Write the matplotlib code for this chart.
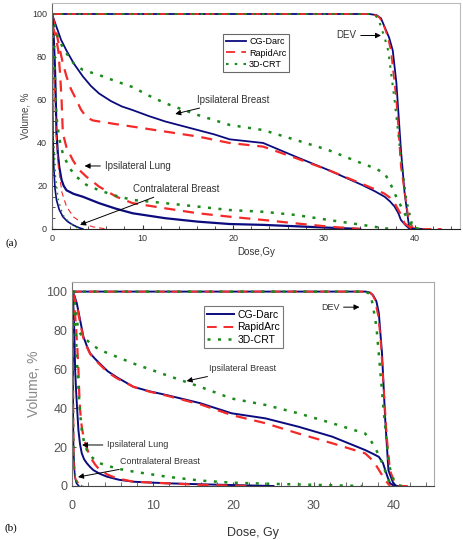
import numpy as np
import matplotlib.pyplot as plt
from matplotlib.ticker import MultipleLocator

plt.rcParams['font.family'] = ['Liberation Sans', 'DejaVu Sans']

navy = '#0b0b7e'
red = '#f42a2a'
green = '#1b8a1b'

# ---------------- panel (a) data: dose (Gy), volume (%) ----------------
a_dev_cg_x = [0, 35.0, 35.8, 36.3, 36.7, 37.2, 37.6, 38.0, 38.5, 38.9, 39.4, 40.0, 41.0]
a_dev_cg_y = [100, 100, 99.5, 98, 94, 89, 83, 68, 37, 17, 1, 0, 0]
a_dev_ra_x = [0, 35.0, 35.7, 36.1, 36.5, 37.0, 37.4, 38.0, 38.5, 39.3, 39.8, 40.5, 43.0]
a_dev_ra_y = [100, 100, 99.5, 98.5, 96, 90, 83, 60, 29, 6, 0.5, 0, 0]
a_dev_3d_x = [0, 35.0, 35.6, 36.0, 36.3, 36.7, 37.1, 37.8, 38.4, 39.1, 39.8, 40.5, 41.0]
a_dev_3d_y = [100, 100, 99.5, 98, 94, 89, 83, 60, 37, 13.5, 1, 0, 0]

a_ib_cg_x = [0, 0.5, 1.0, 1.6, 2.4, 3.4, 4.3, 5.2, 6.5, 7.7, 8.9, 10.7, 12.5, 14.3, 16.1, 17.9, 19.6,
             23.3, 26.9, 30.5, 34.2, 35.6, 36.7, 37.3, 37.8, 38.2, 38.5, 39.0, 39.4, 40.0]
a_ib_cg_y = [100, 94, 88, 83, 77, 71, 66.5, 63, 59.5, 57, 55.3, 52.5, 50, 48, 46, 44, 41.7,
             40, 33.6, 27.4, 20.5, 17.6, 15, 12.8, 10.4, 7.5, 4.2, 1.8, 0.3, 0]
a_ib_ra_x = [0, 0.3, 0.6, 0.9, 1.2, 1.6, 2.1, 2.7, 3.2, 3.8, 4.5, 5.2, 7.0, 8.9, 12.5, 16.1, 19.6,
             23.3, 26.9, 30.5, 34.2, 35.6, 36.7, 37.3, 37.8, 38.4, 38.9, 39.6, 40.2]
a_ib_ra_y = [100, 95, 89, 83, 77, 71, 65, 60, 55.5, 52, 50.5, 50, 48.8, 47.6, 45.3, 43, 40,
             38.3, 33, 27.4, 21, 18.5, 16.4, 14.5, 12, 7.5, 2.6, 0.5, 0]
a_ib_3d_x = [0, 0.5, 1.0, 1.6, 2.4, 3.4, 5.2, 7.0, 8.9, 10.7, 12.5, 14.3, 16.1, 19.6,
             23.3, 26.9, 30.5, 34.2, 35.6, 36.7, 37.3, 37.8, 38.4, 38.9, 39.6, 40.5]
a_ib_3d_y = [100, 91, 86, 81.7, 77, 74, 71.6, 68.8, 66, 62, 58.5, 55.7, 53, 48.4,
             46, 41.4, 36.7, 30.5, 28.3, 25.9, 21.5, 16.6, 11.5, 7.3, 1.9, 0]

a_il_cg_x = [0, 0.1, 0.2, 0.33, 0.42, 0.5, 0.65, 0.8, 1.06, 1.3, 1.6, 2.4, 3.4, 4.3, 5.2, 7.0, 8.9,
             12.5, 16.1, 19.6, 23.3, 30.5, 34.0]
a_il_cg_y = [100, 95, 88, 75, 60, 44.5, 35, 29, 22.8, 20, 18, 16.3, 15, 13.5, 12, 9.5, 7.3,
             5, 3.4, 2.3, 1.9, 0.6, 0]
a_il_ra_x = [0, 0.4, 0.7, 0.9, 1.06, 1.2, 1.6, 2.3, 3.0, 3.8, 5.2, 7.1, 8.9, 12.5, 16.1, 19.6,
             23.3, 26.9, 30.5, 34.0]
a_il_ra_y = [95, 90, 83, 72, 60, 44.5, 38, 32, 27.5, 24.3, 19.7, 15, 12, 9.6, 7.3, 5.7,
             4.2, 2.6, 1.1, 0]
a_il_3d_x = [0, 0.2, 0.35, 0.5, 0.8, 1.2, 1.9, 2.7, 3.8, 5.2, 7.0, 8.9, 12.5, 16.1, 19.6,
             23.3, 26.9, 30.5, 34.2, 36.7, 37.5]
a_il_3d_y = [95, 85, 68, 52, 42, 35, 28.5, 24.3, 20.5, 18, 15.5, 13.5, 12, 10.4, 8.8,
             8, 6.5, 4.2, 1.9, 0.3, 0]

a_cb_cg_x = [0, 0.04, 0.07, 0.12, 0.2, 0.33, 0.5, 0.8, 1.2, 1.7, 2.3, 2.9, 3.4]
a_cb_cg_y = [100, 80, 60, 42, 29, 19, 13.5, 9, 5.7, 3.5, 1.9, 0.7, 0]
a_cb_ra_x = [0, 0.15, 0.33, 0.5, 0.7, 1.1, 1.6, 2.4, 3.4, 4.5, 6.0]
a_cb_ra_y = [92, 78, 60, 42, 29, 17, 10.4, 5.5, 2.6, 1, 0]
a_cb_3d_x = [0, 0.08, 0.15, 0.4, 0.7, 1.2, 2.0, 3.0]
a_cb_3d_y = [90, 65, 44.5, 24, 13.5, 6.5, 2.6, 0]

# ---------------- panel (b) data ----------------
b_dev_cg_x = [0, 36.5, 37.0, 37.4, 37.8, 38.1, 38.5, 38.9, 39.3, 39.9, 40.3, 41.0]
b_dev_cg_y = [100, 100, 99.5, 98, 95, 89, 68, 34, 8, 1.4, 0, 0]
b_dev_ra_x = [0, 36.5, 37.0, 37.3, 37.6, 38.0, 38.3, 38.7, 39.1, 39.5, 40.1, 40.6, 41.8]
b_dev_ra_y = [100, 100, 99.5, 98.5, 96, 88, 77, 51, 25, 8, 1.4, 0, 0]
b_dev_3d_x = [0, 36.4, 36.9, 37.2, 37.4, 37.8, 38.1, 38.7, 39.3, 39.7, 40.5, 41.0]
b_dev_3d_y = [100, 100, 99, 96, 92, 82, 68, 39, 13, 4.8, 0.5, 0]

b_ib_cg_x = [0, 0.25, 0.55, 0.96, 1.37, 1.8, 2.2, 2.8, 3.4, 4.4, 5.5, 7.6, 9.6, 11.7, 15.9, 19.8,
             24.0, 28.1, 32.3, 36.4, 37.4, 38.1, 38.6, 38.9, 39.2, 39.5, 40.0]
b_ib_cg_y = [100, 98, 94, 85.4, 76.8, 72, 68.3, 65.5, 63, 59, 56, 51, 48.7, 46.8, 42.6, 37.4,
             34.8, 30.5, 25.4, 18.5, 16.5, 15, 12, 8.2, 4.5, 1.4, 0]
b_ib_ra_x = [0, 0.25, 0.55, 0.96, 1.37, 1.8, 2.2, 2.8, 3.4, 4.4, 5.5, 7.6, 9.6, 11.7, 15.9, 19.8,
             24.0, 28.1, 32.3, 36.4, 37.0, 37.6, 38.3, 38.9, 39.5]
b_ib_ra_y = [100, 97, 93, 84, 76, 71.5, 68, 65, 62.5, 58.5, 55.5, 51, 48.5, 46.5, 42, 36.5,
             32.3, 27, 22, 16.8, 14.5, 11.7, 7, 3, 0]
b_ib_3d_x = [0, 0.15, 0.3, 0.5, 0.75, 1.2, 1.8, 2.5, 3.4, 5.5, 7.6, 11.7, 15.9, 19.8,
             24.0, 28.1, 32.3, 36.4, 37.0, 37.6, 38.2, 38.7, 39.1, 39.5, 40.0]
b_ib_3d_y = [100, 98, 94, 87, 80, 77, 75, 72.5, 70, 66.5, 63, 57, 51, 45,
             41.7, 37.4, 32.3, 27, 24, 20, 15, 10, 5, 1.4, 0]

b_il_cg_x = [0, 0.1, 0.2, 0.28, 0.34, 0.45, 0.55, 0.75, 0.95, 1.17, 1.45, 1.8, 2.2, 2.6, 3.4, 4.3,
             5.8, 7.6, 11.7, 15.9, 19.8, 25.0]
b_il_cg_y = [100, 95, 85, 72, 60, 50, 42.5, 28.8, 21.5, 16.8, 13.8, 11.7, 9.8, 8.2, 6.3, 4.8,
             3.2, 2.2, 1.4, 0.9, 0.5, 0]
b_il_ra_x = [0, 0.2, 0.4, 0.6, 0.75, 0.85, 0.96, 1.15, 1.37, 1.8, 2.2, 2.8, 3.4, 4.4, 5.5, 7.6,
             11.7, 15.9, 22.0]
b_il_ra_y = [100, 95, 85, 72, 60, 48, 39, 31, 25.4, 19.5, 15, 11.2, 8.2, 5.8, 4, 2.2,
             1.4, 0.6, 0]
b_il_3d_x = [0, 0.2, 0.4, 0.6, 0.75, 0.95, 1.17, 1.45, 1.8, 2.5, 3.4, 5.5, 7.6, 11.7, 15.9, 19.8,
             24.0, 28.1, 32.0, 36.0]
b_il_3d_y = [100, 95, 80, 62, 51, 38, 28.8, 22.5, 18.5, 14.5, 11.7, 9, 7.4, 4.8, 2.8, 1.7,
             1.2, 0.8, 0.4, 0]

b_cb_cg_x = [0, 0.05, 0.08, 0.1, 0.15, 0.3, 0.5, 0.8]
b_cb_cg_y = [100, 94, 60, 34, 18, 5, 1.5, 0]
b_cb_ra_x = [0, 0.05, 0.1, 0.15, 0.2, 0.4, 0.75, 1.4]
b_cb_ra_y = [100, 85, 60, 25, 8, 3.5, 1.4, 0]
b_cb_3d_x = [0, 0.04, 0.08, 0.14, 0.2, 0.4, 0.6, 1.2]
b_cb_3d_y = [100, 88, 70, 35, 12, 4, 2, 0]

plans = ['CG-Darc', 'RapidArc', '3D-CRT']
dose_ticks = [0, 10, 20, 30, 40]
vol_ticks = [0, 20, 40, 60, 80, 100]

fig = plt.figure(figsize=(4.64, 5.40), dpi=100)


def draw_plan(ax, xs, ys, color, ls, lw, label=None):
    if ls == 'solid':
        ax.plot(xs, ys, color=color, lw=lw, label=label)
    elif ls == 'dash':
        ax.plot(xs, ys, color=color, lw=lw, dashes=(5, 3.5), label=label)
    else:
        ax.plot(xs, ys, color=color, lw=lw, dashes=(1.2, 3), label=label)


def arrow(ax, text, xy, xytext, fs, ha='left'):
    ax.annotate(text, xy=xy, xytext=xytext, fontsize=fs, color='#333333',
                va='center', ha=ha,
                arrowprops=dict(arrowstyle='-|>', color='k', lw=0.7,
                                mutation_scale=8, shrinkA=1, shrinkB=0))


# ---------------- panel (a) ----------------
ax1 = fig.add_axes([0.112, 0.576, 0.879, 0.418])
draw_plan(ax1, a_dev_cg_x, a_dev_cg_y, navy, 'solid', 1.3, plans[0])
draw_plan(ax1, a_dev_ra_x, a_dev_ra_y, red, 'dash', 1.3, plans[1])
draw_plan(ax1, a_dev_3d_x, a_dev_3d_y, green, 'dot', 1.5, plans[2])
draw_plan(ax1, a_ib_cg_x, a_ib_cg_y, navy, 'solid', 1.3)
draw_plan(ax1, a_ib_ra_x, a_ib_ra_y, red, 'dash', 1.6)
draw_plan(ax1, a_ib_3d_x, a_ib_3d_y, green, 'dot', 1.8)
draw_plan(ax1, a_il_cg_x, a_il_cg_y, navy, 'solid', 1.6)
draw_plan(ax1, a_il_ra_x, a_il_ra_y, red, 'dash', 1.6)
draw_plan(ax1, a_il_3d_x, a_il_3d_y, green, 'dot', 1.8)
draw_plan(ax1, a_cb_cg_x, a_cb_cg_y, navy, 'solid', 1.2)
draw_plan(ax1, a_cb_ra_x, a_cb_ra_y, red, 'dash', 0.8)
draw_plan(ax1, a_cb_3d_x, a_cb_3d_y, green, 'dot', 1.0)

ax1.set_xlim(0, 45)
ax1.set_ylim(0, 105)
ax1.set_xticks(dose_ticks)
ax1.set_yticks(vol_ticks)
ax1.xaxis.set_minor_locator(MultipleLocator(2))
ax1.yaxis.set_minor_locator(MultipleLocator(5))
ax1.tick_params(axis='both', which='both', labelsize=6.5, colors='#333333',
                direction='in', length=2)
ax1.tick_params(which='major', length=3)
for side in ['top', 'right']:
    ax1.spines[side].set_color('#bbbbbb')
ax1.spines['left'].set_color('#666666')
ax1.spines['bottom'].set_color('#222222')
ax1.set_xlabel('Dose,Gy', fontsize=7, color='#333333', labelpad=3)
ax1.set_ylabel('Volume, %', fontsize=7, color='#444444', labelpad=1)
ax1.legend(loc='upper left', bbox_to_anchor=(0.409, 0.885), fontsize=6.5,
           frameon=True, fancybox=False, edgecolor='#444444', handlelength=2.2,
           borderpad=0.35, labelspacing=0.3, handletextpad=0.3)
ax1.get_legend().get_frame().set_linewidth(0.8)

arrow(ax1, 'DEV', (36.3, 90), (31.4, 90), 7)
arrow(ax1, 'Ipsilateral Breast', (13.6, 53.5), (16.0, 60), 7)
arrow(ax1, 'Ipsilateral Lung', (3.6, 29.3), (5.8, 29.3), 7)
arrow(ax1, 'Contralateral Breast', (3.1, 1.9), (8.9, 18.6), 7)
fig.text(0.012, 0.545, '(a)', fontsize=8, family=['Liberation Serif'])

# ---------------- panel (b) ----------------
ax2 = fig.add_axes([0.156, 0.100, 0.780, 0.378])
draw_plan(ax2, b_dev_cg_x, b_dev_cg_y, navy, 'solid', 1.4, plans[0])
draw_plan(ax2, b_dev_ra_x, b_dev_ra_y, red, 'dash', 1.4, plans[1])
draw_plan(ax2, b_dev_3d_x, b_dev_3d_y, green, 'dot', 1.8, plans[2])
draw_plan(ax2, b_ib_cg_x, b_ib_cg_y, navy, 'solid', 1.4)
draw_plan(ax2, b_ib_ra_x, b_ib_ra_y, red, 'dash', 1.6)
draw_plan(ax2, b_ib_3d_x, b_ib_3d_y, green, 'dot', 1.8)
draw_plan(ax2, b_il_cg_x, b_il_cg_y, navy, 'solid', 1.4)
draw_plan(ax2, b_il_ra_x, b_il_ra_y, red, 'dash', 1.6)
draw_plan(ax2, b_il_3d_x, b_il_3d_y, green, 'dot', 1.8)
draw_plan(ax2, b_cb_cg_x, b_cb_cg_y, navy, 'solid', 1.2)
draw_plan(ax2, b_cb_ra_x, b_cb_ra_y, red, 'dash', 1.2)
draw_plan(ax2, b_cb_3d_x, b_cb_3d_y, green, 'dot', 1.2)

ax2.set_xlim(0, 45)
ax2.set_ylim(0, 105)
ax2.set_xticks(dose_ticks)
ax2.set_yticks(vol_ticks)
ax2.xaxis.set_minor_locator(MultipleLocator(2))
ax2.tick_params(axis='both', which='both', labelsize=9, colors='#555555',
                direction='in', length=3)
ax2.tick_params(axis='x', pad=10)
for side in ['top', 'right']:
    ax2.spines[side].set_color('#aaaaaa')
ax2.spines['left'].set_color('#777777')
ax2.spines['bottom'].set_color('#444444')
ax2.set_xlabel('Dose, Gy', fontsize=9, color='#333333', labelpad=11)
ax2.set_ylabel('Volume, %', fontsize=10, color='#888888', labelpad=4)
ax2.legend(loc='upper left', bbox_to_anchor=(0.35, 0.905), fontsize=7.5,
           frameon=True, fancybox=False, edgecolor='#555555', handlelength=2.6,
           borderpad=0.3, labelspacing=0.25, handletextpad=0.3)
ax2.get_legend().get_frame().set_linewidth(0.8)

arrow(ax2, 'DEV', (35.7, 92), (30.9, 92), 6.5)
arrow(ax2, 'Ipsilateral Breast', (14.2, 54), (17.0, 60.2), 6.5)
arrow(ax2, 'Ipsilateral Lung', (1.2, 21.1), (4.3, 21.1), 6.5)
arrow(ax2, 'Contralateral Breast', (0.7, 4.6), (5.9, 12.4), 6.5)
fig.text(0.010, 0.018, '(b)', fontsize=8, family=['Liberation Serif'])

fig.savefig('out.png', dpi=100, facecolor='white')
